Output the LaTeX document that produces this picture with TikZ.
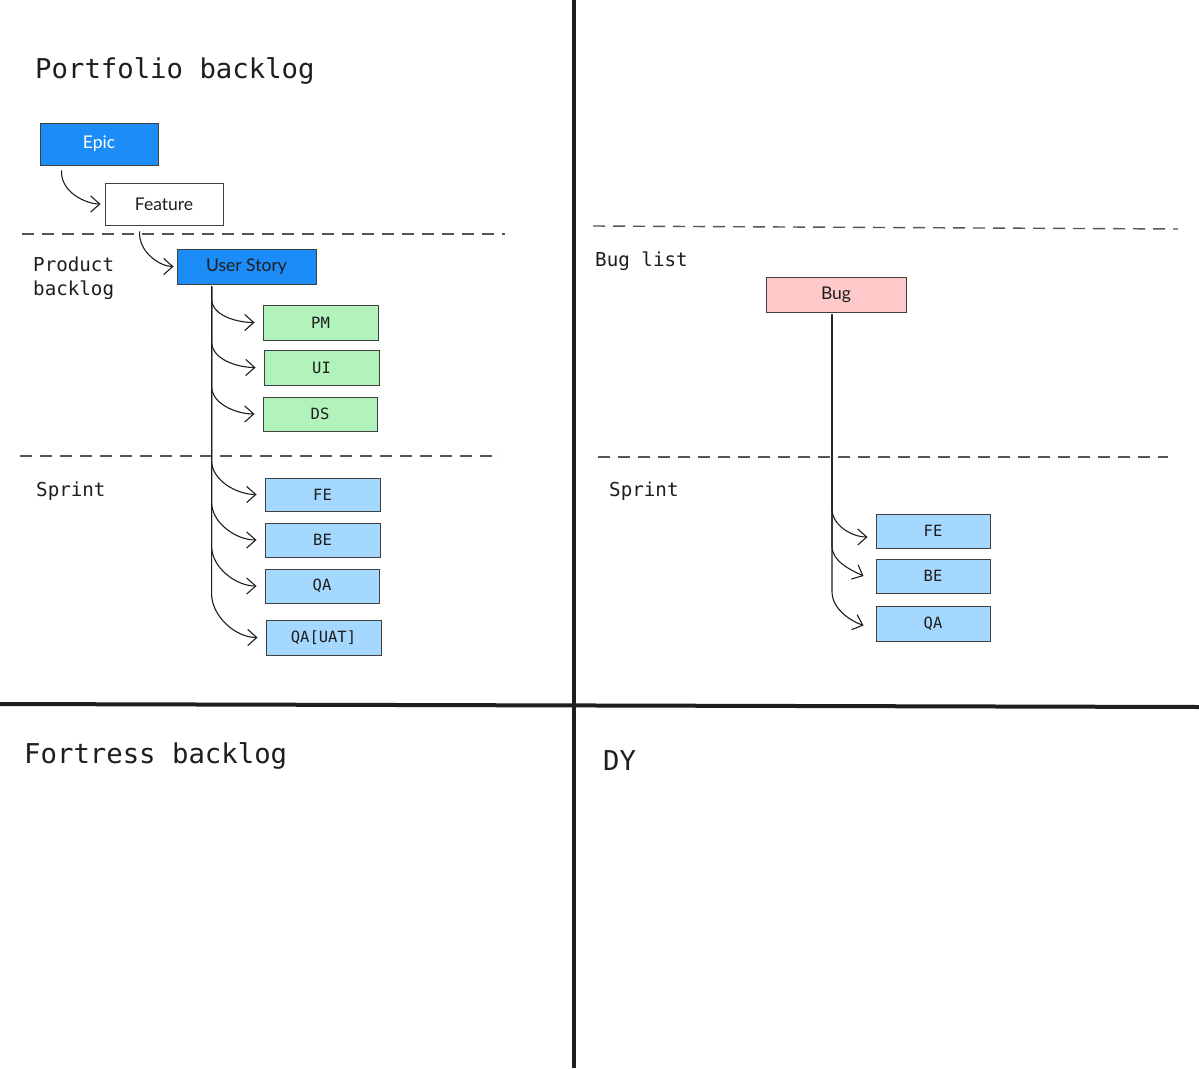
\documentclass[tikz,border=0pt]{standalone}
\usepackage{fontspec}
\usetikzlibrary{arrows.meta,calc}
\newfontfamily\monofnt{DejaVu Sans Mono}
\newfontfamily\handfnt{Lato}
\definecolor{ink}{HTML}{1E1E1E}
\definecolor{epicblue}{HTML}{1C8CF7}
\definecolor{lightblue}{HTML}{A5D8FF}
\definecolor{lightgreen}{HTML}{B2F2BB}
\definecolor{lightpink}{HTML}{FFC9C9}
\tikzset{
  box/.style={draw=ink!85, line width=0.9pt, inner sep=0pt, anchor=center},
  monobox/.style={box, font=\monofnt\fontsize{15.5}{18}\selectfont, text=ink},
  handbox/.style={box, font=\handfnt\fontsize{17.5}{20}\selectfont},
  arr/.style={draw=ink, line width=1.1pt, -{Straight Barb[length=9pt,width=16pt,line width=1.1pt]}},
  sep/.style={draw=ink!75, line width=1.4pt, dash pattern=on 12pt off 8pt},
  divider/.style={draw=ink, line width=4pt},
  heading/.style={font=\monofnt\fontsize{27.3}{30}\selectfont, text=ink, anchor=base west, inner sep=0pt},
  sublabel/.style={font=\monofnt\fontsize{19.2}{24}\selectfont, text=ink, anchor=base west, inner sep=0pt, align=left},
}
\begin{document}
\begin{tikzpicture}[x=1pt,y=-1pt]
\useasboundingbox[fill=white] (0,0) rectangle (1199,1068);
% dividers
\draw[divider] (574,0) -- (574,1068);
\draw[divider] (0,704) -- (1199,707);
% separators
\draw[sep] (22,234) -- (505,234);
\draw[sep] (20,456) -- (500,456);
\draw[sep] (593,226) -- (1178,229);
\draw[sep] (598,457) -- (1168,457);
% headings
\node[heading] (hport) at (35,78) {Portfolio backlog};
\node[heading] (hfort) at (24,763) {Fortress backlog};
\node[heading] (hdy) at (603,770) {DY};
\node[sublabel, anchor=north west] (lprod) at (33,257) {Product\\backlog};
\node[sublabel] (lspr1) at (36,496) {Sprint};
\node[sublabel] (lbug) at (595,266) {Bug list};
\node[sublabel] (lspr2) at (609,496) {Sprint};
% boxes left
\node[handbox, fill=epicblue, text=white, minimum width=118pt, minimum height=42pt] (epic) at (99,144) {Epic};
\node[handbox, fill=white, text=ink, minimum width=118pt, minimum height=42pt] (feature) at (164,204) {Feature};
\node[handbox, fill=epicblue, text=ink, minimum width=139pt, minimum height=35pt] (us) at (246.5,266.5) {User Story};
\node[monobox, fill=lightgreen, minimum width=115pt, minimum height=35pt] (pm) at (320.5,322.5) {PM};
\node[monobox, fill=lightgreen, minimum width=115pt, minimum height=35pt] (ui) at (321.5,367.5) {UI};
\node[monobox, fill=lightgreen, minimum width=114pt, minimum height=34pt] (ds) at (320,414) {DS};
\node[monobox, fill=lightblue, minimum width=115pt, minimum height=33pt] (fe) at (322.5,494.5) {FE};
\node[monobox, fill=lightblue, minimum width=115pt, minimum height=34pt] (be) at (322.5,540) {BE};
\node[monobox, fill=lightblue, minimum width=114pt, minimum height=34pt] (qa) at (322,586) {QA};
\node[monobox, fill=lightblue, minimum width=115pt, minimum height=35pt] (uat) at (323.5,637.5) {QA[UAT]};
% boxes right
\node[handbox, fill=lightpink, text=ink, minimum width=140pt, minimum height=35pt] (bug) at (836,294.5) {Bug};
\node[monobox, fill=lightblue, minimum width=114pt, minimum height=34pt] (fe2) at (933,531) {FE};
\node[monobox, fill=lightblue, minimum width=114pt, minimum height=34pt] (be2) at (933,576) {BE};
\node[monobox, fill=lightblue, minimum width=114pt, minimum height=35pt] (qa2) at (933,623.5) {QA};
% connectors left
\draw[arr] ([xshift=22pt,yshift=-5pt]epic.south west) to[out=-93,in=180,out looseness=1.1,in looseness=0.7] ([xshift=-4pt]feature.west);
\draw[arr] ([xshift=35pt,yshift=-6pt]feature.south west) to[out=-93,in=180,out looseness=1.1,in looseness=0.7] ([xshift=-3pt]us.west);
\coordinate (usout) at ([xshift=35pt,yshift=-2pt]us.south west);
\foreach \t/\h in {pm/24,ui/26,ds/28,fe/34,be/38,qa/40,uat/44}{
  \draw[arr] (usout) -- ($(usout |- \t.west)+(0,-\h)$) to[out=-90,in=180,looseness=0.9] ([xshift=-8pt]\t.west);
}
% connectors right
\coordinate (bugout) at ([xshift=-4pt,yshift=-2pt]bug.south);
\draw[arr] (bugout) -- ($(bugout |- fe2.west)+(0,-22)$) to[out=-90,in=180,looseness=0.9] ([xshift=-8pt,yshift=-6pt]fe2.west);
\draw[arr] (bugout) -- ($(bugout |- be2.west)+(0,-30)$) to[out=-90,in=155,looseness=0.9] ([xshift=-12pt,yshift=0pt]be2.west);
\draw[arr] (bugout) -- ($(bugout |- qa2.west)+(0,-32)$) to[out=-90,in=160,looseness=0.9] ([xshift=-12pt,yshift=-2pt]qa2.west);
\end{tikzpicture}
\end{document}
